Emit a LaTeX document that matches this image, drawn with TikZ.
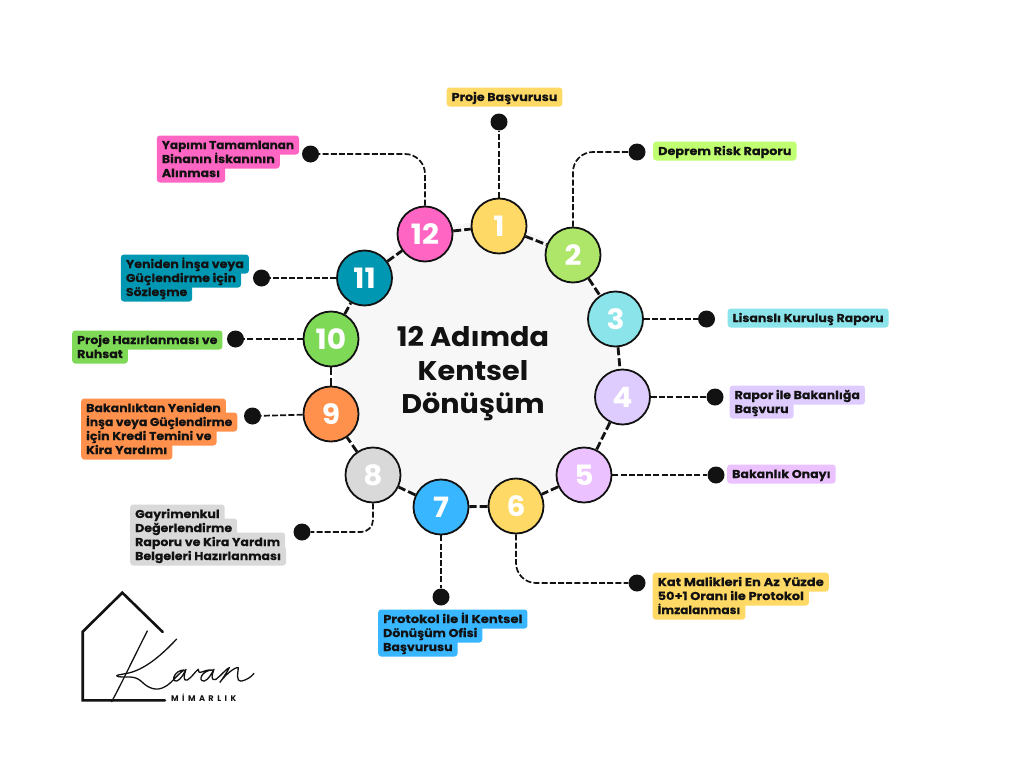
\documentclass[tikz,border=0pt]{standalone}
\usepackage{graphicx}
\usepackage{fontspec}
\setmainfont{Poppins}
\newfontfamily\logofont[LetterSpace=42]{Poppins}
\newfontfamily\lblfont[FakeStretch=1.1,BoldFeatures={FakeBold=0.25}]{Poppins}
\newfontfamily\titlefont[FakeStretch=1.06]{Poppins}
\definecolor{ink}{HTML}{121212}
\definecolor{cone}{HTML}{FFD966}
\definecolor{ctwo}{HTML}{AEE66A}
\definecolor{ltwo}{HTML}{C1FF72}
\definecolor{cthree}{HTML}{8BE4EA}
\definecolor{cfour}{HTML}{DFCCFF}
\definecolor{cfive}{HTML}{EBC2FF}
\definecolor{cseven}{HTML}{38B6FF}
\definecolor{ceight}{HTML}{D9D9D9}
\definecolor{cnine}{HTML}{FF914D}
\definecolor{cten}{HTML}{7ED957}
\definecolor{celeven}{HTML}{0097B2}
\definecolor{ctwelve}{HTML}{FF66C4}
\tikzset{
  numc/.style={circle,draw=ink,line width=1.8pt,minimum size=55pt,inner sep=0pt,text=white,font=\fontsize{28}{28}\titlefont\bfseries},
  dotn/.style={circle,fill=ink,minimum size=17pt,inner sep=0pt},
  link/.style={draw=ink,line width=1.7pt,dash pattern=on 6pt off 2.2pt},
  ring/.style={draw=ink,line width=2.8pt,dash pattern=on 8pt off 3pt},
  lblbox/.style={rounded corners=3pt,inner xsep=5pt,inner ysep=0pt,minimum height=19pt,anchor=west},
  lbltxt/.style={inner sep=0pt,anchor=base west,text=ink,font=\fontsize{11.4}{14}\lblfont\bfseries},
}
\newcommand{\sx}[2]{\scalebox{#1}[1]{#2}}
% name, text x, first line y, colour, lines
\newcommand{\stacklabel}[5]{%
  \foreach \ln [count=\i from 0] in {#5}{
    \node[lblbox,fill=#4] (#1box\i) at (#2-5,{#3+14*\i}) {\fontsize{11.4}{14}\lblfont\bfseries\phantom{\ln}};
  }
  \foreach \ln [count=\i from 0] in {#5}{
    \node[lbltxt] (#1txt\i) at (#2,{#3+14*\i+4}) {\ln};
  }
}
\begin{document}
\begin{tikzpicture}[x=1pt,y=-1pt]
\useasboundingbox (0,0) rectangle (1024,768);
\fill[white] (0,0) rectangle (1024,768);
\node[circle,fill=black!3,minimum size=286pt,inner sep=0pt] (disk) at (477,366) {};
\node[inner sep=0pt,align=center,text=ink,font=\fontsize{27}{33.5}\titlefont\bfseries] (title) at (473,374) {12 Adımda\\Kentsel\\Dönüşüm};
% step circles
\node[numc,fill=cone] (c1) at (499,226) {1};
\node[numc,fill=ctwo] (c2) at (573,255) {2};
\node[numc,fill=cthree] (c3) at (615.5,319) {3};
\node[numc,fill=cfour] (c4) at (622.5,397) {4};
\node[numc,fill=cfive] (c5) at (584,475) {5};
\node[numc,fill=cone] (c6) at (516,506) {6};
\node[numc,fill=cseven] (c7) at (441,507) {7};
\node[numc,fill=ceight] (c8) at (373,475) {8};
\node[numc,fill=cnine] (c9) at (331,414) {9};
\node[numc,fill=cten] (c10) at (331,339) {10};
\node[numc,fill=celeven] (c11) at (364.5,278) {11};
\node[numc,fill=ctwelve] (c12) at (425,234) {12};
% ring
\foreach \a/\b in {c1/c2,c2/c3,c3/c4,c4/c5,c5/c6,c6/c7,c7/c8,c8/c9,c9/c10,c10/c11,c11/c12,c12/c1}
  \draw[ring] (\a) -- (\b);
% dots
\node[dotn] (d1) at (499,122) {};
\node[dotn] (d2) at (637,152) {};
\node[dotn] (d3) at (706.5,319) {};
\node[dotn] (d4) at (715,397) {};
\node[dotn] (d5) at (716,475) {};
\node[dotn] (d6) at (637,583) {};
\node[dotn] (d7) at (441,597) {};
\node[dotn] (d8) at (302,532) {};
\node[dotn] (d9) at (252.5,416) {};
\node[dotn] (d10) at (235.5,339) {};
\node[dotn] (d11) at (261.5,278) {};
\node[dotn] (d12) at (310.5,154) {};
% connectors
\draw[link] (c1) -- (d1);
\draw[link,rounded corners=20pt] (c2.north) |- (d2.west);
\draw[link] (c3) -- (d3);
\draw[link] (c4) -- (d4);
\draw[link] (c5) -- (d5);
\draw[link,rounded corners=20pt] (c6.south) |- (d6.west);
\draw[link] (c7) -- (d7);
\draw[link,rounded corners=12pt] (c8.south) |- (d8.east);
\draw[link] (c9) -- (d9);
\draw[link] (c10) -- (d10);
\draw[link] (c11) -- (d11);
\draw[link,rounded corners=20pt] (c12.north) |- (d12.east);
% labels
\stacklabel{a}{451.5}{97}{cone}{\sx{1.01}{Proje Başvurusu}}
\stacklabel{b}{658}{151}{ltwo}{\sx{1.02}{Deprem Risk Raporu}}
\stacklabel{e}{732.5}{318}{cthree}{Lisanslı Kuruluş Raporu}
\stacklabel{f}{734.5}{395}{cfour}{Rapor ile Bakanlığa,Başvuru}
\stacklabel{g}{732}{474}{cfive}{Bakanlık Onayı}
\stacklabel{h}{657.5}{582}{cone}{\sx{1.047}{Kat Malikleri En Az Yüzde},\sx{1.03}{50+1 Oranı ile Protokol},\sx{.97}{İmzalanması}}
\stacklabel{j}{383}{619}{cseven}{\sx{1.05}{Protokol ile İl Kentsel},Dönüşüm Ofisi,Başvurusu}
\stacklabel{k}{135}{514}{ceight}{Gayrimenkul,Değerlendirme,Raporu ve Kira Yardım,Belgeleri Hazırlanması}
\stacklabel{m}{86}{408}{cnine}{Bakanlıktan Yeniden,\sx{.98}{İnşa veya Güçlendirme},için Kredi Temini ve,Kira Yardımı}
\stacklabel{n}{77}{340}{cten}{Proje Hazırlanması ve,Ruhsat}
\stacklabel{p}{125.7}{264}{celeven}{Yeniden İnşa veya,Güçlendirme için,Sözleşme}
\stacklabel{q}{161.7}{145}{ctwelve}{\sx{.957}{Yapımı Tamamlanan},Binanın İskanının,Alınması}
% logo
\draw[ink,line width=2.6pt,line cap=round,line join=miter] (162.7,632) -- (122.3,592.7) -- (82.7,631.7) -- (82.7,700.3) -- (165,700.3);
\begin{scope}[shift={(110,625)},x=0.3333pt,y=-0.3333pt,ink,line width=1.3pt,line cap=round,line join=round]
\draw (112,18) .. controls (75,90) and (40,165) .. (5,230);
\draw (200,42) .. controls (160,85) and (110,130) .. (60,143) .. controls (30,150) and (10,150) .. (25,155) .. controls (50,158) and (75,150) .. (95,170) .. controls (115,190) and (140,200) .. (165,185) .. controls (185,175) and (200,150) .. (222,135) .. controls (195,135) and (180,170) .. (200,168) .. controls (212,165) and (222,145) .. (228,133) .. controls (222,150) and (218,170) .. (232,165) .. controls (245,158) and (255,140) .. (265,133) .. controls (262,140) and (268,145) .. (278,140) .. controls (285,137) and (295,134) .. (308,135) .. controls (275,135) and (262,170) .. (283,168) .. controls (295,165) and (305,145) .. (312,133) .. controls (305,150) and (302,170) .. (318,163) .. controls (335,150) and (350,130) .. (358,128) .. controls (352,140) and (335,165) .. (330,172) .. controls (345,150) and (375,125) .. (385,128) .. controls (385,140) and (375,170) .. (395,168) .. controls (410,165) and (425,155) .. (432,145);
\end{scope}
\node[inner sep=0pt,anchor=base west,text=ink,font=\fontsize{8.2}{9}\logofont\bfseries] (logotext) at (171,701) {MİMARLIK};
\end{tikzpicture}
\end{document}
